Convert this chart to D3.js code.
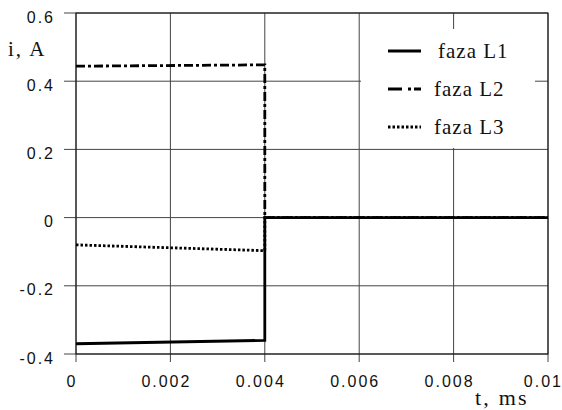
<!DOCTYPE html>
<html>
<head>
<meta charset="utf-8">
<script src="https://cdn.jsdelivr.net/npm/d3@7"></script>
<style>
  body { margin: 0; background: #fff; }
  .tick-lbl { font-family: "Liberation Sans", Arial, sans-serif; font-size: 16px; letter-spacing: 2px; fill: #111; }
  .serif { font-family: "Liberation Serif", "Times New Roman", serif; fill: #111; }
</style>
</head>
<body>
<svg width="562" height="410"></svg>
<script>
// time points (ms) and phase currents (A)
var times = [0, 0.004, 0.004, 0.01];
var faza1 = [-0.37, -0.36, 0, 0];
var faza2 = [0.444, 0.448, 0, 0];
var faza3 = [-0.08, -0.097, 0, 0];

var xTicks = [0, 0.002, 0.004, 0.006, 0.008, 0.01];
var xLabels = ["0", "0.002", "0.004", "0.006", "0.008", "0.01"];
var yTicks = [-0.4, -0.2, 0, 0.2, 0.4, 0.6];
var yLabels = ["-0.4", "-0.2", "0", "0.2", "0.4", "0.6"];

var seriesNames = ["faza L1", "faza L2", "faza L3"];

var svg = d3.select("svg");
var pLeft = 76, pRight = 548, pTop = 13, pBottom = 354;

var x = d3.scaleLinear().domain([0, 0.01]).range([pLeft, pRight]);
var y = d3.scaleLinear().domain([-0.4, 0.6]).range([pBottom, pTop]);

// grid
var grid = svg.append("g");
grid.selectAll("line.v")
    .data(xTicks)
    .enter()
    .append("line")
    .attr("class", "v")
    .attr("x1", function (d) {return x(d);})
    .attr("x2", function (d) {return x(d);})
    .attr("y1", pTop)
    .attr("y2", pBottom + 8)
    .attr("stroke", "#444")
    .attr("stroke-width", 1);

grid.selectAll("line.h")
    .data(yTicks)
    .enter()
    .append("line")
    .attr("class", "h")
    .attr("x1", pLeft - 12)
    .attr("x2", pRight)
    .attr("y1", function (d) {return y(d);})
    .attr("y2", function (d) {return y(d);})
    .attr("stroke", "#444")
    .attr("stroke-width", 1);

// frame
svg.append("rect")
    .attr("x", pLeft).attr("y", pTop)
    .attr("width", pRight - pLeft).attr("height", pBottom - pTop)
    .attr("fill", "none").attr("stroke", "#111").attr("stroke-width", 1);

// tick labels (last one pulled in so it stays on the page)
var nX = xTicks.length;
svg.append("g").selectAll("text")
    .data(xTicks)
    .enter()
    .append("text")
    .attr("class", "tick-lbl")
    .attr("x", function (d, i) {return i === nX - 1 ? 563 : x(d) - 4;})
    .attr("y", 387)
    .attr("text-anchor", function (d, i) {return i === nX - 1 ? "end" : "middle";})
    .text(function (d, i) {return xLabels[i];});

svg.append("g").selectAll("text")
    .data(yTicks)
    .enter()
    .append("text")
    .attr("class", "tick-lbl")
    .attr("x", 55)
    .attr("y", function (d) {return y(d) + 9.5;})
    .attr("text-anchor", "end")
    .text(function (d, i) {return yLabels[i];});

// axis titles
svg.append("text").attr("class", "serif")
    .attr("x", 8).attr("y", 56)
    .style("font-size", "21px")
    .style("letter-spacing", "2px")
    .text("i, A");
svg.append("text").attr("class", "serif")
    .attr("x", 475).attr("y", 405)
    .style("font-size", "22px")
    .style("letter-spacing", "2.2px")
    .text("t, ms");

// series
var line = d3.line()
    .x(function (d) {return x(d[0]);})
    .y(function (d) {return y(d[1]);});

function pts(vals) {
  return times.map(function (t, i) {return [t, vals[i]];});
}

var styles = [
  {data: faza3, dash: "2.5,2"},
  {data: faza2, dash: "9,3,3,3"},
  {data: faza1, dash: null}
];

svg.append("g").selectAll("path")
    .data(styles)
    .enter()
    .append("path")
    .attr("d", function (d) {return line(pts(d.data));})
    .attr("fill", "none")
    .attr("stroke", "#000")
    .attr("stroke-width", 2.8)
    .attr("stroke-dasharray", function (d) {return d.dash;});

// legend
var legend = svg.append("g");
legend.append("rect")
    .attr("x", 361).attr("y", 29)
    .attr("width", 174).attr("height", 119)
    .attr("fill", "#fff");

var legDash = [null, "14,6,3,3", "2.5,2"];
var legY = [51, 89, 127];

var item = legend.selectAll("g.item")
    .data(seriesNames)
    .enter()
    .append("g")
    .attr("class", "item");

item.append("line")
    .attr("x1", 388).attr("x2", 421)
    .attr("y1", function (d, i) {return legY[i];})
    .attr("y2", function (d, i) {return legY[i];})
    .attr("stroke", "#000")
    .attr("stroke-width", 2.8)
    .attr("stroke-dasharray", function (d, i) {return legDash[i];});

item.append("text")
    .attr("class", "serif")
    .attr("x", function (d, i) {return i === 0 ? 438 : 434;})
    .attr("y", function (d, i) {return legY[i] + 7;})
    .style("font-size", "21px")
    .style("letter-spacing", "1px")
    .text(function (d) {return d;});
</script>
</body>
</html>
